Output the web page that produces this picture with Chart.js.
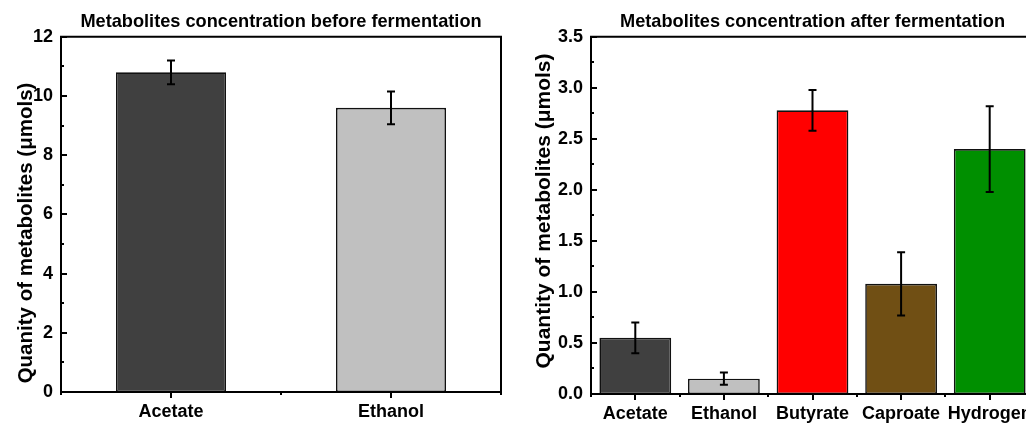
<!DOCTYPE html>
<html>
<head>
<meta charset="utf-8">
<script src="https://cdn.jsdelivr.net/npm/chart.js@4"></script>
<style>
  body { margin: 0; background: #fff; overflow: hidden; }
  #wrap { position: relative; width: 1026px; height: 423px; overflow: hidden; }
  #chartBefore { position: absolute; left: 0; top: 0; }
  #chartAfter { position: absolute; left: 520px; top: 0; }
</style>
</head>
<body>
<div id="wrap">
  <canvas id="chartBefore" width="520" height="423"></canvas>
  <canvas id="chartAfter" width="540" height="423"></canvas>
</div>
<script>
// data before fermentation
const beforeLabels = ['Acetate', 'Ethanol'];
const beforeValues = [10.8, 9.6];
const beforeErrors = [0.4, 0.55];
const beforeColors = ['#404040', '#c0c0c0'];
const beforeTicks = [0, 2, 4, 6, 8, 10, 12];

// data after fermentation
const afterLabels = ['Acetate', 'Ethanol', 'Butyrate', 'Caproate', 'Hydrogen'];
const afterValues = [0.55, 0.15, 2.78, 1.08, 2.40];
const afterErrors = [0.15, 0.06, 0.20, 0.31, 0.42];
const afterColors = ['#404040', '#c0c0c0', '#ff0000', '#704f14', '#008f00'];
const afterTicks = [0, 0.5, 1, 1.5, 2, 2.5, 3, 3.5];

Chart.defaults.font.family = "'Liberation Sans', Arial, sans-serif";
Chart.defaults.font.weight = 'bold';
Chart.defaults.color = '#000';

// error bars + frame + ticks + y title (origin style)
const originStyle = {
  id: 'originStyle',
  afterDatasetsDraw(chart, args, opts) {
    const ctx = chart.ctx;
    const x = chart.scales.x, y = chart.scales.y;
    const values = chart.data.datasets[0].data;
    ctx.save();
    ctx.strokeStyle = '#000';
    ctx.lineWidth = 2;
    values.forEach((v, i) => {
      const px = x.getPixelForValue(i);
      const top = y.getPixelForValue(v + opts.errors[i]);
      const bot = y.getPixelForValue(v - opts.errors[i]);
      ctx.beginPath();
      ctx.moveTo(px, top); ctx.lineTo(px, bot);
      ctx.moveTo(px - 4, top); ctx.lineTo(px + 4, top);
      ctx.moveTo(px - 4, bot); ctx.lineTo(px + 4, bot);
      ctx.stroke();
    });
    ctx.restore();
  },
  afterDraw(chart, args, opts) {
    const ctx = chart.ctx;
    const a = chart.chartArea;
    const x = chart.scales.x, y = chart.scales.y;
    ctx.save();
    ctx.strokeStyle = '#000';
    ctx.lineWidth = 2;
    ctx.beginPath();
    ctx.moveTo(a.left, a.top); ctx.lineTo(a.left, a.bottom);
    ctx.moveTo(a.left - 1, a.bottom); ctx.lineTo(a.right + 1, a.bottom);
    ctx.moveTo(a.left - 1, a.top); ctx.lineTo(a.right + 1, a.top);
    if (opts.rightBorder) { ctx.moveTo(a.right, a.top); ctx.lineTo(a.right, a.bottom); }
    // y ticks, inward
    for (let v = y.min; v <= y.max + 1e-9; v += opts.minorStep) {
      const py = Math.round(y.getPixelForValue(v));
      const major = Math.abs(v / (opts.minorStep * 2) - Math.round(v / (opts.minorStep * 2))) < 1e-6;
      ctx.moveTo(a.left, py); ctx.lineTo(a.left + (major ? 6 : 3), py);
    }
    // x ticks, outward
    const n = chart.data.labels.length;
    for (let i = 0; i < n; i++) {
      const px = Math.round(x.getPixelForValue(i));
      ctx.moveTo(px, a.bottom); ctx.lineTo(px, a.bottom + 6);
    }
    for (let i = -0.5; i < n; i++) {
      const px = Math.round(x.getPixelForValue(i));
      ctx.moveTo(px, a.bottom); ctx.lineTo(px, a.bottom + 3);
    }
    ctx.stroke();
    // y axis title
    ctx.translate(opts.titleX, opts.titleY);
    ctx.rotate(-Math.PI / 2);
    ctx.fillStyle = '#000';
    ctx.font = "bold " + opts.titleSize + "px 'Liberation Sans', Arial, sans-serif";
    ctx.textAlign = 'center';
    ctx.textBaseline = 'middle';
    ctx.fillText(opts.yTitle, 0, 0);
    ctx.restore();
  }
};

function makeConfig(labels, values, colors, ticks, maxY, barPct, titleText, yWidth, xHeight, padRight, xPad, fmt, extra) {
  return {
    type: 'bar',
    data: {
      labels: labels,
      datasets: [{
        data: values,
        backgroundColor: colors,
        borderColor: '#111',
        borderWidth: 1.6,
        borderSkipped: false,
        barPercentage: barPct,
        categoryPercentage: 1
      }]
    },
    options: {
      responsive: false,
      animation: false,
      layout: { padding: { left: 0, top: 0, bottom: 0, right: padRight } },
      plugins: {
        legend: { display: false },
        tooltip: { enabled: false },
        title: {
          display: true,
          text: titleText,
          fullSize: false,
          font: { size: 18.2, weight: 'bold' },
          padding: { top: 11, bottom: 4 }
        },
        originStyle: extra
      },
      scales: {
        x: {
          grid: { display: false, drawTicks: false },
          border: { display: false },
          ticks: { font: { size: 18 }, padding: xPad, maxRotation: 0 },
          afterFit: (s) => { s.height = xHeight; }
        },
        y: {
          min: 0,
          max: maxY,
          grid: { display: false, drawTicks: false },
          border: { display: false },
          afterBuildTicks: (s) => { s.ticks = ticks.map(v => ({ value: v })); },
          ticks: { font: { size: 18 }, padding: 8, callback: fmt },
          afterFit: (s) => { s.width = yWidth; }
        }
      }
    },
    plugins: [originStyle]
  };
}

const chartBefore = new Chart(
  document.getElementById('chartBefore'),
  makeConfig(beforeLabels, beforeValues, beforeColors, beforeTicks, 12, 0.5,
    'Metabolites concentration before fermentation',
    61, 31, 19, 9, (v) => String(v),
    { errors: beforeErrors, minorStep: 1, rightBorder: true, titleSize: 20.5,
      yTitle: 'Quanity of metabolites (\u03bcmols)', titleX: 26.5, titleY: 233 })
);

const chartAfter = new Chart(
  document.getElementById('chartAfter'),
  makeConfig(afterLabels, afterValues, afterColors, afterTicks, 3.5, 0.81,
    'Metabolites concentration after fermentation',
    71, 29, 26, 9, (v) => v.toFixed(1),
    { errors: afterErrors, minorStep: 0.25, rightBorder: false, titleSize: 21,
      yTitle: 'Quantity of metabolites (\u03bcmols)', titleX: 24, titleY: 211 })
);
</script>
</body>
</html>
